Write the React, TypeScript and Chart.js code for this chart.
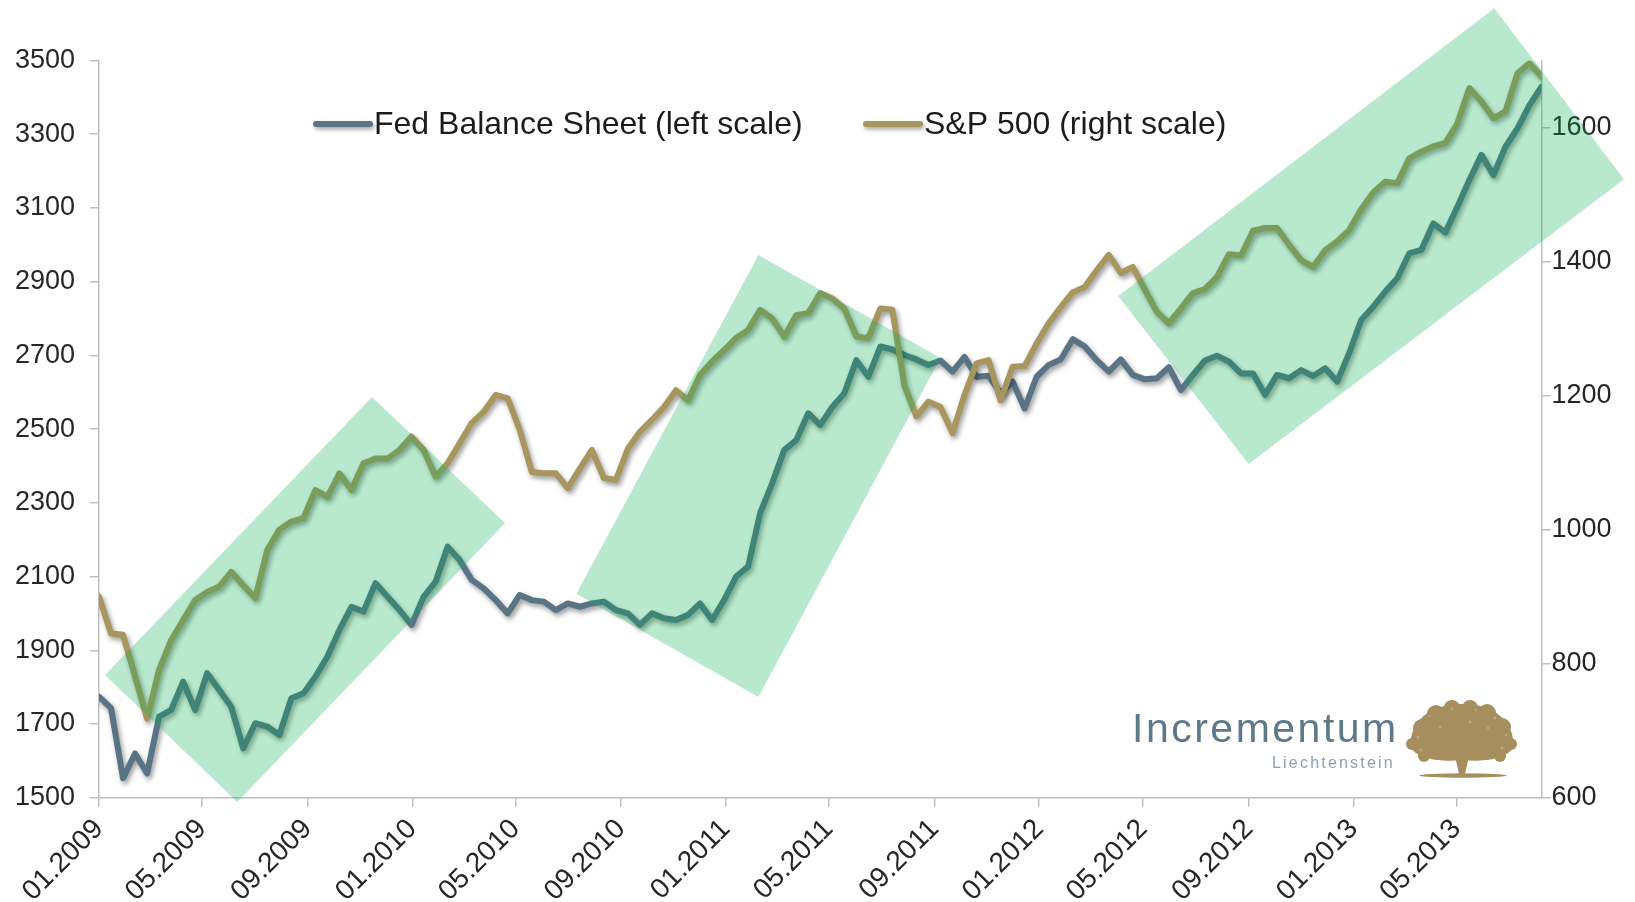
import React, { useEffect, useRef } from 'react';
import { Chart, registerables } from 'chart.js';

Chart.register(...registerables);

// ---------- data (bi-weekly observations starting 01.01.2009) ----------
const START_UTC = Date.UTC(2009, 0, 1);
const DAY_MS = 86400000;
const STEP_DAYS = 14;

const fedBalance = [
  1774, 1743, 1553, 1620, 1566, 1720, 1738, 1815, 1738, 1838,
  1792, 1747, 1634, 1702, 1693, 1670, 1770, 1783, 1828, 1883,
  1955, 2018, 2005, 2082, 2045, 2009, 1969, 2045, 2086, 2181,
  2145, 2091, 2068, 2036, 2000, 2050, 2036, 2032, 2009, 2027,
  2018, 2027, 2032, 2009, 2000, 1969, 2000, 1987, 1982, 1996,
  2027, 1982, 2036, 2100, 2127, 2272, 2353, 2443, 2470, 2543,
  2511, 2560, 2597, 2687, 2642, 2724, 2716, 2701, 2689, 2674,
  2686, 2656, 2696, 2642, 2645, 2597, 2629, 2556, 2642, 2674,
  2689, 2744, 2724, 2687, 2656, 2689, 2647, 2635, 2638, 2668,
  2606, 2647, 2686, 2699, 2683, 2651, 2651, 2593, 2647, 2638,
  2660, 2644, 2665, 2629, 2706, 2796, 2832, 2873, 2909, 2977,
  2986, 3058, 3033, 3103, 3176, 3244, 3189, 3266, 3316, 3379,
  3429,
];

const sp500 = [
  900, 845, 843, 781, 718, 791, 835, 865, 895, 907,
  915, 937, 917, 898, 970, 1000, 1012, 1017, 1059, 1049,
  1084, 1059, 1099, 1106, 1106, 1119, 1139, 1119, 1079, 1099,
  1129, 1159, 1176, 1201, 1196, 1149, 1086, 1084, 1084, 1062,
  1091, 1119, 1077, 1074, 1121, 1146, 1164, 1183, 1208, 1193,
  1231, 1251, 1268, 1286, 1298, 1328, 1315, 1288, 1320, 1323,
  1353, 1345, 1330, 1288, 1286, 1330, 1328, 1215, 1169, 1191,
  1183, 1144, 1201, 1248, 1253, 1193, 1243, 1244, 1278, 1308,
  1332, 1354, 1362, 1387, 1410, 1383, 1392, 1358, 1325, 1308,
  1330, 1353, 1359, 1377, 1411, 1409, 1446, 1450, 1450, 1425,
  1402, 1392, 1417, 1430, 1447, 1478, 1503, 1519, 1517, 1554,
  1564, 1572, 1577, 1606, 1659, 1639, 1614, 1624, 1681, 1696,
  1676,
];

// day offsets of the observations
const obsDays = fedBalance.map((_, i) => i * STEP_DAYS);

const xTickLabels = [
  '01.2009', '05.2009', '09.2009', '01.2010', '05.2010', '09.2010', '01.2011',
  '05.2011', '09.2011', '01.2012', '05.2012', '09.2012', '01.2013', '05.2013',
];
const leftTicks = [1500, 1700, 1900, 2100, 2300, 2500, 2700, 2900, 3100, 3300, 3500];
const rightTicks = [600, 800, 1000, 1200, 1400, 1600];

// shaded trend channels: corners as [day offset, left-scale value]
const channel2009 = [[7, 1833], [318, 2587], [473, 2245], [161, 1488]];
const channel2011 = [[556, 2053], [768, 2972], [980, 2693], [768, 1773]];
const channel2013 = [[1187, 2861], [1625, 3642], [1776, 3178], [1339, 2405]];
const channels = [channel2009, channel2011, channel2013];

const LEGEND_FED = 'Fed Balance Sheet (left scale)';
const LEGEND_SPX = 'S&P 500 (right scale)';

// ---------- styling ----------
const FED_COLOR = '#587485';
const SPX_COLOR = '#a8965f';
const AXIS_COLOR = '#bfbfbf';
const TEXT_COLOR = '#262626';
const FONT = '"Liberation Sans", Arial, sans-serif';
const CHANNEL_FILL = 'rgba(0,176,80,0.28)';

const labelToDay = (lab: string) => {
  const [m, y] = lab.split('.').map(Number);
  return (Date.UTC(y, m - 1, 1) - START_UTC) / DAY_MS;
};
const xTickDays = xTickLabels.map(labelToDay);

function drawTree(ctx: CanvasRenderingContext2D) {
  const col = '#a68e5e';
  ctx.save();
  ctx.fillStyle = col;
  // canopy: broad dome
  ctx.beginPath();
  ctx.moveTo(1411, 748);
  ctx.bezierCurveTo(1408, 722, 1430, 704, 1462, 704);
  ctx.bezierCurveTo(1494, 704, 1516, 722, 1513, 748);
  ctx.bezierCurveTo(1505, 760, 1480, 762, 1462, 760);
  ctx.bezierCurveTo(1444, 762, 1419, 760, 1411, 748);
  ctx.closePath();
  ctx.fill();
  const blobs: [number, number, number][] = [
    [1422, 728, 9], [1436, 714, 9], [1452, 708, 8], [1470, 708, 8], [1487, 713, 9], [1502, 727, 9],
    [1412, 744, 6], [1511, 744, 6], [1424, 756, 6], [1500, 756, 6],
  ];
  blobs.forEach(([x, y, r]) => {
    ctx.beginPath();
    ctx.arc(x, y, r, 0, Math.PI * 2);
    ctx.fill();
  });
  // subtle light specks
  ctx.fillStyle = 'rgba(255,255,255,0.22)';
  const specks: [number, number][] = [
    [1430, 716], [1452, 709], [1476, 710], [1495, 718], [1506, 735], [1418, 737], [1488, 728], [1440, 727],
    [1470, 722], [1502, 748], [1421, 750],
  ];
  specks.forEach(([x, y]) => {
    ctx.beginPath();
    ctx.arc(x, y, 1.4, 0, Math.PI * 2);
    ctx.fill();
  });
  // trunk
  ctx.fillStyle = col;
  ctx.beginPath();
  ctx.moveTo(1455, 756);
  ctx.lineTo(1469, 756);
  ctx.lineTo(1465, 774);
  ctx.lineTo(1459, 774);
  ctx.closePath();
  ctx.fill();
  // ground
  ctx.beginPath();
  ctx.ellipse(1463, 775.5, 44, 2.2, 0, 0, Math.PI * 2);
  ctx.fill();
  ctx.restore();
}

const shadowPlugin = {
  id: 'lineShadow',
  beforeDatasetsDraw(chart: any) {
    const c = chart.ctx;
    c.save();
    c.shadowColor = 'rgba(0,0,0,0.4)';
    c.shadowBlur = 5;
    c.shadowOffsetX = 2;
    c.shadowOffsetY = 3;
  },
  afterDatasetsDraw(chart: any) {
    chart.ctx.restore();
  },
};

const overlayPlugin = {
  id: 'overlays',
  afterDraw(chart: any) {
    const ctx: CanvasRenderingContext2D = chart.ctx;
    const xs = chart.scales.x;
    const ys = chart.scales.yL;
    // trend channels
    ctx.save();
    ctx.fillStyle = CHANNEL_FILL;
    channels.forEach((poly) => {
      ctx.beginPath();
      poly.forEach(([d, v], i) => {
        const px = xs.getPixelForValue(d);
        const py = ys.getPixelForValue(v);
        if (i === 0) ctx.moveTo(px, py);
        else ctx.lineTo(px, py);
      });
      ctx.closePath();
      ctx.fill();
    });
    ctx.restore();

    // legend (inside plot area)
    const legendY = 124;
    const items: [string, string, number][] = [
      [LEGEND_FED, FED_COLOR, 316],
      [LEGEND_SPX, SPX_COLOR, 866],
    ];
    items.forEach(([text, color, x0]) => {
      ctx.save();
      ctx.shadowColor = 'rgba(0,0,0,0.35)';
      ctx.shadowBlur = 4;
      ctx.shadowOffsetX = 1.5;
      ctx.shadowOffsetY = 2.5;
      ctx.strokeStyle = color;
      ctx.lineWidth = 6;
      ctx.lineCap = 'round';
      ctx.beginPath();
      ctx.moveTo(x0, legendY);
      ctx.lineTo(x0 + 54, legendY);
      ctx.stroke();
      ctx.restore();
      ctx.save();
      ctx.fillStyle = '#1c1c1c';
      ctx.font = `32px ${FONT}`;
      ctx.textBaseline = 'middle';
      ctx.textAlign = 'left';
      ctx.fillText(text, x0 + 58, legendY + 1);
      ctx.restore();
    });

    // logo
    ctx.save();
    ctx.textBaseline = 'alphabetic';
    ctx.textAlign = 'left';
    ctx.fillStyle = '#5d798a';
    ctx.font = `41px ${FONT}`;
    (ctx as any).letterSpacing = '2.5px';
    ctx.fillText('Incrementum', 1132, 742);
    ctx.fillStyle = '#8a9fae';
    ctx.font = `16px ${FONT}`;
    (ctx as any).letterSpacing = '2.2px';
    ctx.fillText('Liechtenstein', 1272, 768);
    (ctx as any).letterSpacing = '0px';
    ctx.restore();
    drawTree(ctx);
  },
};

export default function App() {
  const canvasRef = useRef<HTMLCanvasElement | null>(null);

  useEffect(() => {
    document.body.style.margin = '0';
    const canvas = canvasRef.current;
    if (!canvas) return;

    const axisGrid = {
      display: true,
      drawOnChartArea: false,
      drawTicks: true,
      tickLength: 9,
      color: AXIS_COLOR,
      lineWidth: 1.5,
    };
    const axisBorder = { display: true, color: AXIS_COLOR, width: 1.5 };

    const chart = new Chart(canvas, {
      type: 'line',
      data: {
        datasets: [
          {
            label: LEGEND_FED,
            data: obsDays.map((d, i) => ({ x: d, y: fedBalance[i] })),
            borderColor: FED_COLOR,
            backgroundColor: FED_COLOR,
            borderWidth: 6,
            yAxisID: 'yL',
            order: 1,
          },
          {
            label: LEGEND_SPX,
            data: obsDays.map((d, i) => ({ x: d, y: sp500[i] })),
            borderColor: SPX_COLOR,
            backgroundColor: SPX_COLOR,
            borderWidth: 6,
            yAxisID: 'yR',
            order: 0,
          },
        ],
      },
      options: {
        animation: false,
        responsive: false,
        maintainAspectRatio: false,
        layout: { padding: { top: 60.5, left: 0, right: 0, bottom: 0 } },
        elements: {
          point: { radius: 0, hoverRadius: 0 },
          line: { tension: 0, borderJoinStyle: 'round', borderCapStyle: 'round' },
        },
        plugins: {
          legend: { display: false },
          tooltip: { enabled: false },
        },
        scales: {
          x: {
            type: 'linear',
            min: 0,
            max: 1680,
            afterBuildTicks: (s: any) => {
              s.ticks = xTickDays.map((v) => ({ value: v }));
            },
            afterFit: (s: any) => {
              s.height = 104.3;
              s.paddingLeft = 0;
              s.paddingRight = 0;
            },
            ticks: {
              autoSkip: false,
              minRotation: 45,
              maxRotation: 45,
              padding: 6,
              color: TEXT_COLOR,
              font: { family: FONT, size: 28 },
              callback: (v: any) => {
                const idx = xTickDays.indexOf(Number(v));
                return idx >= 0 ? xTickLabels[idx] : '';
              },
            },
            grid: axisGrid,
            border: axisBorder,
          },
          yL: {
            type: 'linear',
            position: 'left',
            min: 1500,
            max: 3500,
            afterBuildTicks: (s: any) => {
              s.ticks = leftTicks.map((v) => ({ value: v }));
            },
            afterFit: (s: any) => {
              s.width = 99;
              s.paddingTop = 0;
              s.paddingBottom = 0;
            },
            ticks: {
              padding: 15,
              color: TEXT_COLOR,
              font: { family: FONT, size: 27 },
              callback: (v: any) => String(v),
            },
            grid: axisGrid,
            border: axisBorder,
          },
          yR: {
            type: 'linear',
            position: 'right',
            min: 600,
            max: 1700,
            afterBuildTicks: (s: any) => {
              s.ticks = rightTicks.map((v) => ({ value: v }));
            },
            afterFit: (s: any) => {
              s.width = 93.5;
              s.paddingTop = 0;
              s.paddingBottom = 0;
            },
            ticks: {
              padding: 1,
              color: TEXT_COLOR,
              font: { family: FONT, size: 27 },
              callback: (v: any) => String(v),
            },
            grid: axisGrid,
            border: axisBorder,
          },
        },
      },
      plugins: [shadowPlugin, overlayPlugin],
    } as any);

    return () => {
      chart.destroy();
    };
  }, []);

  return (
    <div style={{ width: 1635, height: 902, position: 'relative', background: '#ffffff' }}>
      <canvas ref={canvasRef} width={1635} height={902} style={{ display: 'block' }} />
    </div>
  );
}
